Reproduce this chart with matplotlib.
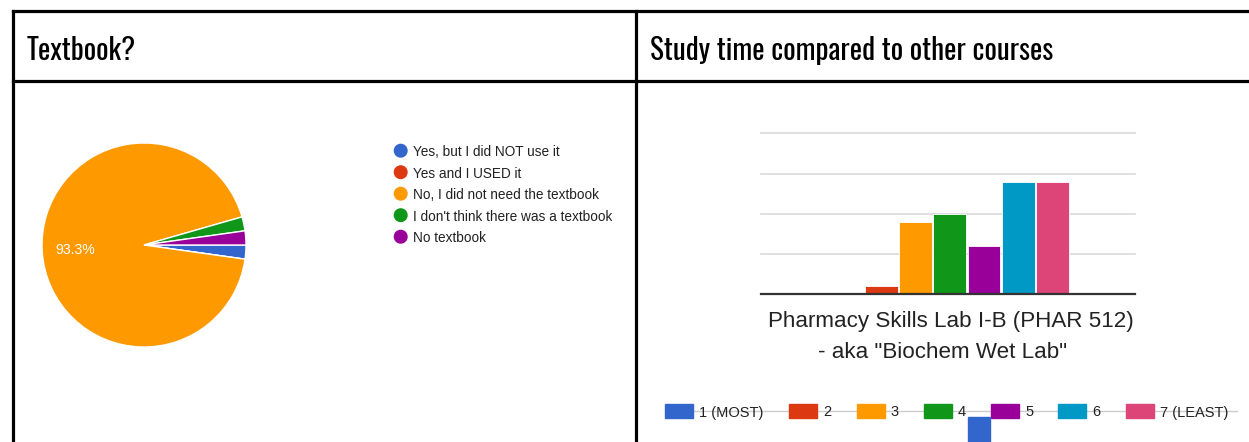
import matplotlib
matplotlib.use("Agg")
import matplotlib.pyplot as plt
from matplotlib.lines import Line2D
from matplotlib.patches import Rectangle, Circle
from matplotlib import font_manager
import numpy as np

# Data
pie_labels = ["Yes, but I did NOT use it", "Yes and I USED it", "No, I did not need the textbook",
              "I don't think there was a textbook", "No textbook"]
pie_counts = [1, 0, 42, 1, 1]
pie_colors = ["#3366cc", "#dc3912", "#ff9900", "#109618", "#990099"]

bar_labels = ["1 (MOST)", "2", "3", "4", "5", "6", "7 (LEAST)"]
bar_counts = [0, 1, 9, 10, 6, 14, 14]
bar_colors = ["#3366cc", "#dc3912", "#ff9900", "#109618", "#990099", "#0099c6", "#dd4477"]
course = ["Pharmacy Skills Lab I-B (PHAR 512)", '- aka "Biochem Wet Lab"']

titles = ["Textbook?", "Study time compared to other courses"]

W, H = 1249, 442
fig = plt.figure(figsize=(W / 100, H / 100), dpi=100)

def fx(px):
    return px / W

def fy(py):
    return 1 - py / H

# Table borders
border = dict(color="black", lw=2.3, solid_capstyle="projecting")
fig.add_artist(Line2D([fx(13), fx(1249)], [fy(10.5), fy(10.5)], **border))
fig.add_artist(Line2D([fx(13), fx(1249)], [fy(81), fy(81)], **border))
fig.add_artist(Line2D([fx(13), fx(13)], [fy(10.5), fy(442)], **border))
fig.add_artist(Line2D([fx(636), fx(636)], [fy(10.5), fy(442)], **border))

# narrow face for the headers (Oswald if present)
names = sorted({f.name for f in font_manager.fontManager.ttflist})
narrow = [n for n in names if n == "Oswald"] + [n for n in names if "Condensed" in n or "Narrow" in n]
head_font = narrow[:1] + ["DejaVu Sans"]
fig.text(fx(27), fy(60), titles[0], fontsize=21, family=head_font, stretch="condensed",
         va="baseline", ha="left")
fig.text(fx(650), fy(60), titles[1], fontsize=21, family=head_font, stretch="condensed",
         va="baseline", ha="left")

# Pie chart
cx, cy, r = 144, 245, 102
ax1 = fig.add_axes([fx(cx - r), fy(cy + r), 2 * r / W, 2 * r / H])
wedges, texts, autotexts = ax1.pie(pie_counts, colors=pie_colors, startangle=0, counterclock=False,
                                   autopct=lambda p: "%.1f%%" % p if p > 5 else "",
                                   pctdistance=0.68,
                                   wedgeprops=dict(edgecolor="white", linewidth=1))
for t in autotexts:
    t.set_color("white")
    t.set_fontsize(10.2)
    t.set_family("Liberation Sans")
ax1.set_xlim(-1, 1)
ax1.set_ylim(-1, 1)
ax1.set_aspect("equal")
ax1.axis("off")

# Pie legend
for i, (lab, col) in enumerate(zip(pie_labels, pie_colors)):
    yy = 150.7 + i * 21.5
    fig.add_artist(Circle((fx(400.7) * W, fy(yy) * H), 6.3, color=col, transform=None))
    fig.text(fx(413), fy(yy), lab, fontsize=9.85, family="Liberation Sans", color="#222222",
             va="center_baseline", ha="left")

# Bar chart
ax2 = fig.add_axes([fx(761), fy(294.3), (1135 - 761) / W, (294.3 - 133.3) / H])
pos = np.arange(len(bar_counts)) - 3
ax2.bar(pos, bar_counts, width=0.96, color=bar_colors, edgecolor="white", linewidth=0.6, zorder=3)
ax2.set_xlim(-5.5, 5.4)
ax2.set_ylim(0, 20)
for g in [5, 10, 15, 20]:
    ax2.axhline(g, color="#d9d9d9", lw=1.2, zorder=1, clip_on=False)
ax2.tick_params(left=False, bottom=False, labelleft=False, labelbottom=False)
for s in ax2.spines.values():
    s.set_visible(False)
ax2.axhline(0, color="#333333", lw=1.6, zorder=4, clip_on=False)

fig.text(fx(950.5), fy(322), course[0], fontsize=16.1, family="Liberation Sans", color="#222222",
         ha="center", va="center")
fig.text(fx(943), fy(352), course[1], fontsize=16.1, family="Liberation Sans", color="#222222",
         ha="center", va="center")

# Bar legend
sq_left = [665, 789, 856.7, 924, 991, 1058.3, 1125.7]
ly = 411
fig.add_artist(Line2D([fx(693), fx(1237)], [fy(ly), fy(ly)], color="#cccccc", lw=1, zorder=1))
for xl, lab, col in zip(sq_left, bar_labels, bar_colors):
    fig.add_artist(Rectangle((fx(xl), fy(ly + 7)), 28 / W, 14 / H, color=col, zorder=2))
    fig.text(fx(xl + 34), fy(ly), lab, fontsize=10.5, family="Liberation Sans", color="#222222",
             va="center_baseline", ha="left", zorder=3)
# wrapped first legend swatch
fig.add_artist(Rectangle((fx(968.3), fy(442)), 21.7 / W, 24.7 / H, color=bar_colors[0], zorder=2))

fig.savefig("out.png", dpi=100)
